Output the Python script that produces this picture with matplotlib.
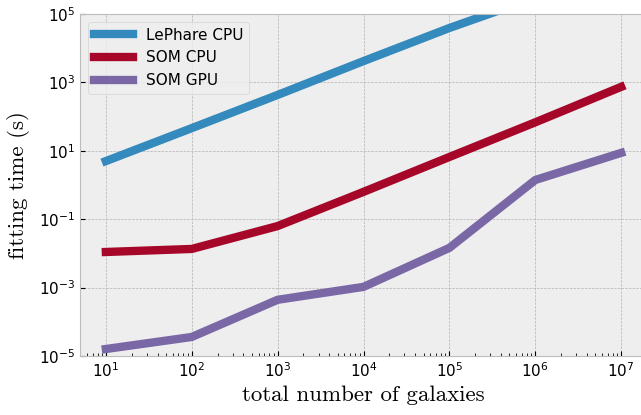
import matplotlib
matplotlib.use("Agg")
import matplotlib.pyplot as plt

# galaxies vs fitting time
n_gal = [1e1, 1e2, 1e3, 1e4, 1e5, 1e6, 1e7]
lephare_cpu = [5.0, 46, 430, 4200, 39000, 3.0e5, 3.0e6]
som_cpu = [0.011, 0.0135, 0.063, 0.63, 6.6, 68, 740]
som_gpu = [1.6e-5, 3.6e-5, 4.4e-4, 1.05e-3, 0.0145, 1.4, 8.7]

plt.style.use('bmh')

fig = plt.figure(figsize=(6.41, 4.15), dpi=100)
ax = fig.add_axes([80 / 641, 59 / 415, 567 / 641, 342 / 415])

ax.plot(n_gal, lephare_cpu, lw=6, label='LePhare CPU')
ax.plot(n_gal, som_cpu, lw=6, label='SOM CPU')
ax.plot(n_gal, som_gpu, lw=6, label='SOM GPU')

ax.set_xscale('log')
ax.set_yscale('log')
ax.set_xlim(5.0, 2.0e7)
ax.set_ylim(1e-5, 1e5)

ax.set_xlabel('total number of galaxies', fontfamily='cmr10', fontsize=16.5)
ax.set_ylabel('fitting time (s)', fontfamily='cmr10', fontsize=16.5, labelpad=6)
ax.tick_params(labelsize=11)
ax.legend(loc='upper left', fontsize=11, handlelength=2.6)

fig.savefig('out.png', dpi=100)
